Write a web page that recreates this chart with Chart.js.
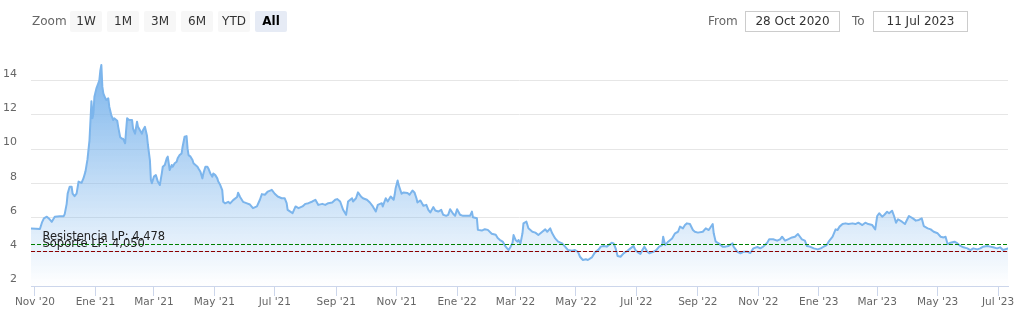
<!DOCTYPE html>
<html>
<head>
<meta charset="utf-8">
<script src="https://cdn.jsdelivr.net/npm/chart.js@4.4.1/dist/chart.umd.min.js"></script>
<style>
  html, body { margin: 0; padding: 0; background: #fff; }
  #wrap { position: relative; width: 1021px; height: 324px; font-family: "DejaVu Sans", sans-serif; }
  #grafico { position: absolute; left: 0; top: 0; }
  .lbl { position: absolute; top: 14px; font-size: 12px; color: #666; }
  .btn { position: absolute; top: 11px; width: 32px; height: 21px; line-height: 21px; text-align: center;
         font-size: 12px; color: #333; background: #f7f7f7; border-radius: 2px; }
  .btn.activo { background: #e6ebf5; color: #000; font-weight: bold; }
  .fecha { position: absolute; top: 11px; width: 93px; height: 19px; line-height: 19px; text-align: center;
           font-size: 12px; color: #333; border: 1px solid #ccc; }
</style>
</head>
<body>
<div id="wrap">
  <canvas id="grafico" width="1021" height="324"></canvas>
  <div class="lbl" style="left:32px">Zoom</div>
  <div class="btn" style="left:70px">1W</div>
  <div class="btn" style="left:107px">1M</div>
  <div class="btn" style="left:144px">3M</div>
  <div class="btn" style="left:181px">6M</div>
  <div class="btn" style="left:218px">YTD</div>
  <div class="btn activo" style="left:255px">All</div>
  <div class="lbl" style="left:708px">From</div>
  <div class="fecha" style="left:745px">28 Oct 2020</div>
  <div class="lbl" style="left:852px">To</div>
  <div class="fecha" style="left:873px">11 Jul 2023</div>
</div>
<script>
// rango de fechas
const fechaInicio = "2020-10-28";
const fechaFin = "2023-07-11";

// eje X
const fechasX = ["2020-11-01", "2021-01-01", "2021-03-01", "2021-05-01", "2021-07-01", "2021-09-01",
  "2021-11-01", "2022-01-01", "2022-03-01", "2022-05-01", "2022-07-01", "2022-09-01",
  "2022-11-01", "2023-01-01", "2023-03-01", "2023-05-01", "2023-07-01"];
const etiquetasX = ["Nov '20", "Ene '21", "Mar '21", "May '21", "Jul '21", "Sep '21",
  "Nov '21", "Ene '22", "Mar '22", "May '22", "Jul '22", "Sep '22",
  "Nov '22", "Ene '23", "Mar '23", "May '23", "Jul '23"];

// eje Y
const ticksY = [2, 4, 6, 8, 10, 12, 14];

// lineas de soporte / resistencia
const resistencia = 4.478;
const soporte = 4.050;

// dias desde fechaInicio
const dias = [
  0, 5, 9, 11, 13, 16, 18, 21, 24, 29,
  33, 34, 36, 37, 39, 41, 42, 44, 46, 48,
  51, 53, 55, 57, 58, 59, 61, 62, 63, 64,
  66, 68, 69, 70, 71, 72, 73, 75, 76, 78,
  79, 81, 83, 84, 87, 88, 90, 92, 93, 95,
  96, 97, 99, 102, 103, 105, 107, 108, 110, 112,
  113, 115, 117, 118, 120, 121, 122, 124, 126, 128,
  130, 132, 133, 135, 137, 138, 140, 142, 143, 145,
  147, 148, 150, 152, 153, 155, 157, 158, 159, 161,
  163, 164, 166, 168, 169, 171, 173, 174, 176, 178,
  179, 181, 183, 184, 186, 188, 189, 191, 193, 194,
  196, 199, 201, 204, 208, 209, 211, 214, 218, 221,
  224, 228, 231, 233, 236, 239, 243, 246, 249, 253,
  256, 258, 259, 264, 267, 270, 274, 277, 280, 284,
  287, 290, 294, 297, 300, 304, 307, 309, 312, 315,
  318, 320, 324, 325, 328, 330, 333, 335, 339, 342,
  345, 348, 350, 354, 355, 358, 360, 363, 366, 367,
  368, 370, 371, 374, 376, 380, 382, 385, 387, 389,
  390, 393, 396, 399, 401, 403, 406, 408, 411, 414,
  416, 419, 421, 423, 426, 428, 430, 433, 436, 440,
  443, 445, 446, 450, 451, 455, 458, 461, 465, 469,
  471, 473, 476, 479, 482, 484, 486, 487, 489, 491,
  492, 494, 496, 497, 500, 502, 506, 509, 512, 516,
  519, 521, 524, 526, 529, 532, 536, 539, 542, 546,
  549, 552, 554, 557, 560, 562, 566, 569, 573, 575,
  578, 581, 583, 586, 588, 590, 592, 595, 598, 602,
  605, 608, 610, 613, 615, 617, 619, 622, 624, 628,
  631, 634, 637, 638, 640, 643, 647, 650, 653, 655,
  658, 660, 662, 665, 668, 670, 673, 678, 681, 684,
  688, 689, 691, 694, 698, 701, 704, 708, 709, 713,
  716, 719, 723, 726, 729, 733, 736, 739, 743, 745,
  749, 753, 756, 758, 761, 764, 768, 771, 774, 778,
  781, 783, 786, 790, 794, 797, 800, 803, 805, 809,
  812, 814, 816, 819, 822, 825, 829, 832, 835, 839,
  842, 845, 849, 852, 854, 856, 859, 861, 864, 866,
  869, 871, 873, 875, 879, 882, 886, 890, 893, 896,
  899, 901, 905, 908, 911, 915, 918, 921, 923, 925,
  928, 932, 935, 938, 941, 945, 948, 951, 955, 958,
  961, 965, 968, 971, 975, 978, 981, 986
];

const precios = [
  5.36, 5.35, 5.33, 5.7, 5.95, 6.05, 5.95, 5.75, 6.05, 6.08,
  6.08, 6.2, 6.8, 7.4, 7.8, 7.8, 7.4, 7.25, 7.4, 8.1,
  8.03, 8.3, 8.7, 9.4, 9.95, 10.5, 12.8, 11.8, 12.1, 13.06,
  13.55, 13.85, 14.04, 14.6, 14.92, 13.65, 13.26, 12.97, 12.87, 12.97,
  12.48, 11.99, 11.7, 11.8, 11.66, 11.3, 10.7, 10.6, 10.6, 10.34,
  11.1, 11.8, 11.7, 11.7, 11.2, 10.9, 11.6, 11.3, 11.1, 10.9,
  11.1, 11.3, 10.8, 10.24, 9.36, 8.19, 8.0, 8.39, 8.48, 8.1,
  7.9, 8.58, 8.97, 9.07, 9.46, 9.56, 8.78, 9.07, 8.97, 9.17,
  9.26, 9.46, 9.65, 9.75, 10.14, 10.72, 10.76, 10.04, 9.65, 9.56,
  9.36, 9.17, 9.07, 8.97, 8.87, 8.68, 8.29, 8.58, 8.97, 8.97,
  8.87, 8.58, 8.39, 8.58, 8.48, 8.29, 8.1, 7.9, 7.6, 6.92,
  6.83, 6.92, 6.83, 7.02, 7.2, 7.45, 7.2, 6.92, 6.83, 6.76,
  6.55, 6.65, 7.04, 7.37, 7.33, 7.52, 7.62, 7.39, 7.23, 7.13,
  7.13, 6.84, 6.45, 6.26, 6.65, 6.55, 6.65, 6.8, 6.84, 6.94,
  7.04, 6.74, 6.8, 6.74, 6.84, 6.88, 7.04, 7.08, 6.94, 6.45,
  6.16, 6.94, 7.13, 6.94, 7.13, 7.47, 7.23, 7.13, 7.04, 6.88,
  6.65, 6.35, 6.74, 6.84, 6.65, 7.13, 6.94, 7.23, 7.04, 7.33,
  7.72, 8.17, 7.91, 7.39, 7.47, 7.43, 7.33, 7.58, 7.47, 7.13,
  6.88, 7.0, 6.69, 6.74, 6.45, 6.3, 6.61, 6.41, 6.35, 6.45,
  6.16, 6.1, 6.16, 6.49, 6.22, 6.1, 6.49, 6.16, 6.1, 6.1,
  6.1, 6.35, 6.02, 5.96, 5.28, 5.24, 5.32, 5.28, 5.05, 4.99,
  4.8, 4.7, 4.6, 4.3, 4.1, 4.3, 4.53, 4.98, 4.69, 4.59,
  4.69, 4.49, 5.08, 5.66, 5.76, 5.37, 5.17, 5.12, 4.98, 5.17,
  5.31, 5.17, 5.37, 5.08, 4.78, 4.59, 4.49, 4.3, 4.1, 4.06,
  4.1, 4.0, 3.71, 3.52, 3.56, 3.52, 3.67, 3.95, 4.14, 4.3,
  4.34, 4.3, 4.39, 4.53, 4.49, 4.2, 3.75, 3.71, 3.91, 4.06,
  4.2, 4.34, 4.1, 3.95, 3.87, 4.1, 4.3, 4.0, 3.91, 4.0,
  4.1, 4.3, 4.39, 4.88, 4.39, 4.59, 4.78, 5.08, 5.17, 5.47,
  5.37, 5.56, 5.66, 5.62, 5.27, 5.17, 5.12, 5.17, 5.37, 5.27,
  5.62, 5.08, 4.59, 4.49, 4.3, 4.3, 4.34, 4.49, 4.3, 4.0,
  3.91, 4.0, 4.0, 3.93, 4.2, 4.28, 4.2, 4.3, 4.53, 4.73,
  4.73, 4.65, 4.73, 4.88, 4.65, 4.73, 4.84, 4.88, 5.04, 4.73,
  4.65, 4.34, 4.3, 4.2, 4.14, 4.2, 4.3, 4.39, 4.59, 4.88,
  5.31, 5.27, 5.47, 5.62, 5.66, 5.62, 5.66, 5.62, 5.7, 5.56,
  5.7, 5.62, 5.56, 5.31, 6.09, 6.25, 6.05, 6.15, 6.34, 6.25,
  6.4, 6.09, 5.7, 5.9, 5.76, 5.62, 6.09, 5.95, 5.82, 5.86,
  5.95, 5.5, 5.37, 5.31, 5.17, 5.08, 4.88, 4.84, 4.88, 4.45,
  4.53, 4.59, 4.49, 4.34, 4.26, 4.2, 4.1, 4.2, 4.14, 4.2,
  4.3, 4.34, 4.3, 4.26, 4.2, 4.26, 4.1, 4.2
];

const DIA = 864e5;
const t0 = Date.parse(fechaInicio);
const diaFin = (Date.parse(fechaFin) - t0) / DIA;
const ticksXDias = fechasX.map(f => (Date.parse(f) - t0) / DIA);

const n = Math.min(dias.length, precios.length);
const serie = [];
for (let i = 0; i < n; i++) serie.push({ x: dias[i], y: precios[i] });

const fmt = v => v.toFixed(3).replace(".", ",");

// lineas de soporte y resistencia con su texto (posicion via la escala Y)
const lineasNivel = {
    id: "lineasNivel",
    afterDatasetsDraw(chart) {
        const { ctx, chartArea, scales } = chart;
        const niveles = [
            { v: resistencia, color: "#008000", texto: "Resistencia LP: " + fmt(resistencia) },
            { v: soporte, color: "#8b0000", texto: "Soporte LP: " + fmt(soporte) }
        ];
        ctx.save();
        niveles.forEach(nv => {
            const py = Math.round(scales.y.getPixelForValue(nv.v)) + 0.5;
            ctx.beginPath();
            ctx.setLineDash([4, 2]);
            ctx.lineWidth = 1;
            ctx.strokeStyle = nv.color;
            ctx.moveTo(chartArea.left, py);
            ctx.lineTo(chartArea.right, py);
            ctx.stroke();
        });
        ctx.setLineDash([]);
        ctx.font = "11.5px 'DejaVu Sans', sans-serif";
        ctx.fillStyle = "#222";
        ctx.textBaseline = "alphabetic";
        ctx.textAlign = "left";
        niveles.forEach(nv => {
            ctx.fillText(nv.texto, chartArea.left + 11.5, scales.y.getPixelForValue(nv.v) - 3.5);
        });
        ctx.restore();
    }
};

const maxPrecio = Math.max(...precios);

new Chart(document.getElementById("grafico").getContext("2d"), {
    type: "line",
    data: {
        datasets: [
            {
                data: serie,
                borderColor: "#7cb5ec",
                borderWidth: 2,
                borderJoinStyle: "round",
                borderCapStyle: "round",
                pointRadius: 0,
                tension: 0,
                fill: "start",
                backgroundColor: (c) => {
                    const { chart } = c;
                    const area = chart.chartArea;
                    if (!area) return "rgba(124,181,236,0.4)";
                    const top = chart.scales.y.getPixelForValue(maxPrecio);
                    const g = chart.ctx.createLinearGradient(0, top, 0, area.bottom);
                    g.addColorStop(0, "rgba(124,181,236,1)");
                    g.addColorStop(1, "rgba(124,181,236,0)");
                    return g;
                }
            }
        ]
    },
    options: {
        responsive: false,
        animation: false,
        devicePixelRatio: 1,
        layout: { padding: { top: 55, right: 13, left: 0, bottom: 0 } },
        plugins: { legend: { display: false }, tooltip: { enabled: false } },
        scales: {
            x: {
                type: "linear",
                min: 0,
                max: diaFin,
                afterBuildTicks: (s) => { s.ticks = ticksXDias.map(v => ({ value: v })); },
                afterFit: (s) => { s.height = 38; },
                grid: { drawOnChartArea: false, drawTicks: true, tickLength: 10, color: "#ccd6eb" },
                border: { display: true, color: "#ccd6eb" },
                ticks: {
                    autoSkip: false,
                    maxRotation: 0,
                    minRotation: 0,
                    padding: 0,
                    color: "#666",
                    font: { family: "'DejaVu Sans', sans-serif", size: 10.5 },
                    callback: (v, i) => etiquetasX[i]
                }
            },
            y: {
                min: 2,
                max: 15.5,
                afterBuildTicks: (s) => { s.ticks = ticksY.map(v => ({ value: v })); },
                afterFit: (s) => { s.width = 31; },
                grid: { color: "#e6e6e6", drawTicks: false },
                border: { display: false },
                ticks: {
                    padding: 14,
                    labelOffset: -6.5,
                    color: "#666",
                    font: { family: "'DejaVu Sans', sans-serif", size: 11 }
                }
            }
        }
    },
    plugins: [lineasNivel]
});
</script>
</body>
</html>
